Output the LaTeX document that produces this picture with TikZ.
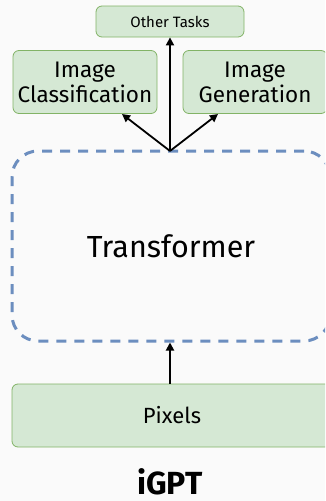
\documentclass[tikz,border=0pt]{standalone}
\usepackage{fontspec}
\setmainfont{Fira Sans}
\usepackage{xcolor}
\usetikzlibrary{arrows.meta,positioning}
\definecolor{taskfill}{RGB}{213,232,212}
\definecolor{taskline}{RGB}{130,179,102}
\definecolor{dashblue}{RGB}{108,142,191}
\definecolor{pagebg}{RGB}{250,250,250}

\begin{document}
\begin{tikzpicture}[
      x=1pt,
      y=-1pt,
      taskbox/.style={
        draw=taskline,
        line width=0.8pt,
        fill=taskfill,
        rounded corners=6pt,
        align=center,
        inner sep=0pt
      },
      blockbox/.style={
        draw=dashblue,
        line width=3pt,
        dash pattern=on 10pt off 8pt,
        rounded corners=26pt,
        align=center,
        inner sep=0pt
      },
      flow/.style={-{Triangle[length=8pt,width=8pt]}, line width=1.8pt},
      label/.style={font=\fontsize{32}{36}\selectfont\bfseries, inner sep=0pt}
    ]
    \fill[pagebg] (0,0) rectangle (325,501);
    \useasboundingbox (0,0) rectangle (325,501);
    \clip (0,0) rectangle (325,501);

    \node[taskbox, minimum width=148pt, minimum height=31pt,
      font=\fontsize{15}{17}\selectfont] (other) at (170,21.5) {Other Tasks};
    \node[taskbox, minimum width=144pt, minimum height=63pt,
      font=\fontsize{22.5}{25}\selectfont] (cls) at (85,82) {Image\\Classification};
    \node[taskbox, minimum width=144pt, minimum height=63pt,
      font=\fontsize{22.5}{25}\selectfont] (gen) at (255,82) {Image\\Generation};

    \node[blockbox, minimum width=318pt, minimum height=190pt,
      font=\fontsize{30.5}{34}\selectfont] (trans) at (171,246) {Transformer};
    \coordinate (hub) at (170,151);
    \coordinate (clsend) at (122,114);
    \coordinate (genend) at (218,114);

    \node[taskbox, minimum width=320pt, minimum height=63pt,
      font=\fontsize{22}{25}\selectfont] (pix) at (172,415.5) {Pixels};

    \node[label, anchor=base] (title) at (170,494) {iGPT};

    \draw[flow] (hub) -- (other.south -| hub);
    \draw[flow] (hub) -- (clsend);
    \draw[flow] (hub) -- (genend);
    \draw[flow] (pix.north -| hub) -- (trans.south -| hub);
  \end{tikzpicture}
\end{document}
